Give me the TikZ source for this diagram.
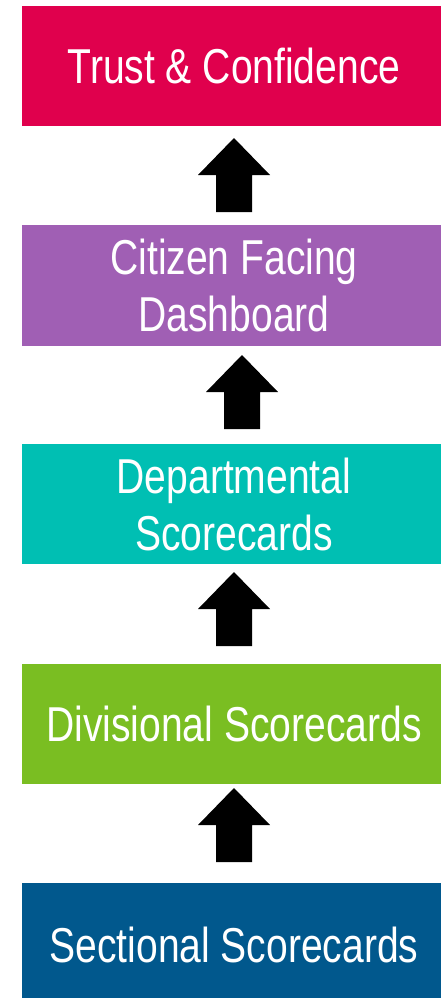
\documentclass[tikz,border=0pt]{standalone}
\usepackage{fontspec}
\setmainfont{Liberation Sans}
\newfontfamily\boxfont[FakeStretch=0.797]{Liberation Sans}
\definecolor{crim}{RGB}{224,0,77}
\definecolor{purp}{RGB}{160,95,180}
\definecolor{teal2}{RGB}{0,191,179}
\definecolor{green2}{RGB}{122,190,34}
\definecolor{blue2}{RGB}{1,88,141}
\begin{document}
\begin{tikzpicture}[x=1pt,y=-1pt,
  box/.style={rectangle, minimum width=424pt, inner sep=0pt, text=white,
    align=center, font=\boxfont\fontsize{49}{57}\selectfont},
  uparrow/.pic={\fill[black] (0,0) -- (36,37) -- (18,37) -- (18,74) -- (-18,74) -- (-18,37) -- (-36,37) -- cycle;}]
\useasboundingbox (0,0) rectangle (440,998);
\fill[white] (0,0) rectangle (440,998);
\node[box, fill=crim, minimum height=120pt] (trust) at (234,66) {Trust \& Confidence};
\node[box, fill=purp, minimum height=121pt] (citizen) at (234,285.5) {Citizen Facing\\Dashboard};
\node[box, fill=teal2, minimum height=120pt] (dept) at (234,504) {Departmental\\Scorecards};
\node[box, fill=green2, minimum height=120pt] (div) at (234,724) {Divisional Scorecards};
\node[box, fill=blue2, minimum height=124pt] (sect) at (234,945) {Sectional Scorecards};
\pic at (234,138) {uparrow};
\pic at (242,355) {uparrow};
\pic at (234,572) {uparrow};
\pic at (234,788) {uparrow};
\end{tikzpicture}
\end{document}
